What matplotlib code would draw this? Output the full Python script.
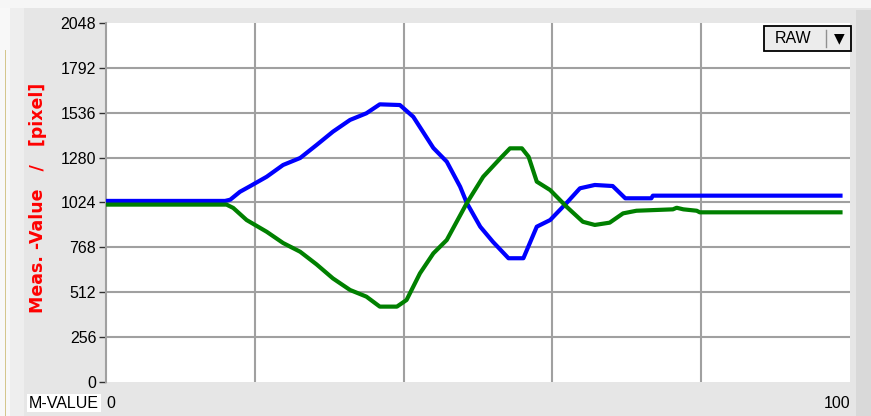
import matplotlib
matplotlib.use('Agg')
import matplotlib.pyplot as plt
from matplotlib.patches import Rectangle

# blue channel
blue_x = [0, 16.0, 16.7, 18.0, 19.4, 21.6, 23.8, 26.1, 28.3, 30.5, 32.8, 35.0, 36.8,
          39.5, 41.3, 44.0, 45.8, 47.6, 48.5, 50.3, 52.0, 54.1, 56.1, 57.9, 59.7,
          61.9, 63.7, 65.7, 68.1, 69.8, 73.3, 73.5, 99.0]
blue_y = [1033, 1033, 1040, 1085, 1118, 1171, 1238, 1278, 1352, 1428, 1495, 1533, 1584,
          1580, 1513, 1335, 1257, 1114, 1021, 886, 800, 706, 706, 886, 924,
          1021, 1105, 1124, 1118, 1048, 1048, 1063, 1063]

# green channel
green_x = [0, 16.2, 17.1, 18.9, 21.6, 23.8, 26.1, 28.3, 30.5, 32.8, 35.0, 36.8, 39.1,
           40.4, 42.2, 44.0, 45.8, 48.5, 50.7, 53.0, 54.3, 55.9, 56.8, 57.9, 59.7,
           61.9, 64.1, 65.7, 67.7, 69.5, 71.3, 76.2, 76.7, 77.6, 79.4, 79.8, 99.0]
green_y = [1012, 1012, 993, 924, 857, 793, 743, 671, 591, 525, 487, 430, 430,
           468, 620, 734, 810, 1021, 1171, 1276, 1333, 1333, 1285, 1143, 1095,
           1000, 914, 896, 909, 962, 977, 985, 994, 985, 977, 968, 968]

y_ticks = [0, 256, 512, 768, 1024, 1280, 1536, 1792, 2048]
x_grid = [20, 40, 60, 80]

W, H = 871, 416

fig = plt.figure(figsize=(W / 100, H / 100), dpi=100, facecolor='#e6e6e6')


def px_rect(x0, y0, x1, y1, color, z=0):
    # rectangle in pixel coords (y from the top)
    fig.patches.append(Rectangle((x0 / W, 1 - y1 / H), (x1 - x0) / W, (y1 - y0) / H,
                                 transform=fig.transFigure, facecolor=color,
                                 edgecolor='none', zorder=z))


# window frame bits
px_rect(0, 0, W, 8, '#f6f6f6')
px_rect(0, 8, 10, H, '#f8f8f8')
px_rect(10, 8, 24, H, '#eeeeee')
px_rect(856, 10, W, H, '#d9d9d9')
px_rect(5, 50, 6, H, '#d4c68c', z=1)

ax = fig.add_axes([106 / W, 1 - 382 / H, 744 / W, 359 / H])
ax.set_facecolor('white')

ax.plot(blue_x, blue_y, color='#0000ff', lw=3, solid_capstyle='butt', zorder=3)
ax.plot(green_x, green_y, color='#008000', lw=3, solid_capstyle='butt', zorder=3)

ax.set_xlim(0, 100)
ax.set_ylim(0, 2048)
ax.set_yticks(y_ticks)
ax.set_yticklabels([str(v) for v in y_ticks], fontsize=11.5, family='Liberation Sans')
ax.tick_params(axis='y', length=5, width=1, color='#303030', pad=2)
for v in y_ticks[1:-1]:
    ax.axhline(v, color='#a0a0a0', lw=1.5, zorder=1)
for v in x_grid:
    ax.axvline(v, color='#a0a0a0', lw=1.5, zorder=1)

ax.set_xticks([0, 100])
ax.set_xticklabels(['0', '100'], fontsize=11.5, family='Liberation Sans')
ax.tick_params(axis='x', length=0, pad=10)
lbls = ax.get_xticklabels()
lbls[0].set_horizontalalignment('left')
lbls[0].set_x(0.8)
lbls[1].set_horizontalalignment('right')

for s in ['top', 'right', 'bottom']:
    ax.spines[s].set_visible(False)
ax.spines['left'].set_color('#a0a0a0')
ax.spines['left'].set_linewidth(1.5)

fig.text(38 / W, 1 - 198 / H, 'Meas. -Value   /   [pixel]', rotation=90,
         color='red', fontsize=12.5, fontweight='bold', family='DejaVu Sans',
         ha='center', va='center')

# M-VALUE box
fig.text(64 / W, 1 - 403 / H, 'M-VALUE', fontsize=11.5, family='Liberation Sans',
         ha='center', va='center',
         bbox=dict(boxstyle='square,pad=0.12', facecolor='white', edgecolor='none'))

# RAW selector
fig.patches.append(Rectangle((764 / W, 1 - 51 / H), 87 / W, 25 / H,
                             transform=fig.transFigure, facecolor='#ececec',
                             edgecolor='black', lw=1.3, zorder=5))
fig.text(793 / W, 1 - 38.5 / H, 'RAW', fontsize=11.5, family='Liberation Sans',
         ha='center', va='center', zorder=6)
fig.lines.append(plt.Line2D([826 / W, 826 / W], [1 - 47 / H, 1 - 30 / H],
                            transform=fig.transFigure, color='#909090', lw=1, zorder=6))
fig.text(839 / W, 1 - 38 / H, '\u25bc', fontsize=10, family='DejaVu Sans',
         ha='center', va='center', zorder=6)

fig.savefig('out.png', dpi=100, facecolor=fig.get_facecolor())
